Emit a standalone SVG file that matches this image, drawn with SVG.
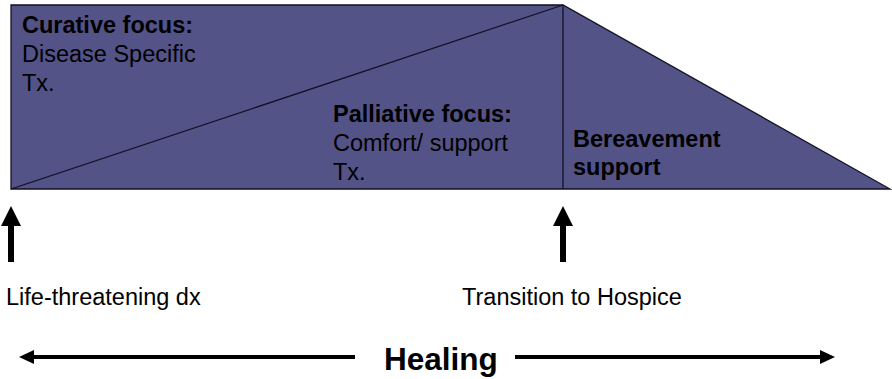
<svg xmlns="http://www.w3.org/2000/svg" width="892" height="379" viewBox="0 0 892 379">
<style>
.shape{fill:#535388;stroke:#111122;stroke-width:1.3}
.edge{stroke:#111122;stroke-width:1.3;fill:none}
.lbl{font-family:"Liberation Sans",Arial,sans-serif;font-size:23.5px;fill:#000}
.b{font-weight:bold}
.arrow{stroke:#000;stroke-width:6;fill:none}
.harrow{stroke:#000;stroke-width:4;fill:none}
.head{fill:#000}
</style>
<g id="phases">
<polygon class="shape" points="11,5 563,5 890,189 11,189"/>
<line class="edge" x1="11" y1="189" x2="563" y2="5"/>
<line class="edge" x1="563" y1="5" x2="563" y2="189"/>
</g>
<g id="curative">
<text class="lbl b" x="22" y="33">Curative focus:</text>
<text class="lbl" x="22" y="62">Disease Specific</text>
<text class="lbl" x="22" y="91">Tx.</text>
</g>
<g id="palliative">
<text class="lbl b" x="333" y="122">Palliative focus:</text>
<text class="lbl" x="333" y="151">Comfort/ support</text>
<text class="lbl" x="333" y="180">Tx.</text>
</g>
<g id="bereavement">
<text class="lbl b" x="573" y="147">Bereavement</text>
<text class="lbl b" x="573" y="175">support</text>
</g>
<g id="connectors">
<line class="arrow" x1="11" y1="262" x2="11" y2="222"/>
<polygon class="head" points="11,206 21,226 1,226"/>
<line class="arrow" x1="563" y1="262" x2="563" y2="222"/>
<polygon class="head" points="563,206 573,226 553,226"/>
<line class="harrow" x1="30" y1="357" x2="355" y2="357"/>
<polygon class="head" points="19,357 34,350 34,364"/>
<line class="harrow" x1="515" y1="357" x2="822" y2="357"/>
<polygon class="head" points="835,357 820,350 820,364"/>
</g>
<g id="life-dx"><text class="lbl" x="6" y="305">Life-threatening dx</text></g>
<g id="hospice"><text class="lbl" x="462" y="305">Transition to Hospice</text></g>
<g id="healing"><text class="lbl b" x="384" y="370" style="font-size:31.5px">Healing</text></g>
</svg>
